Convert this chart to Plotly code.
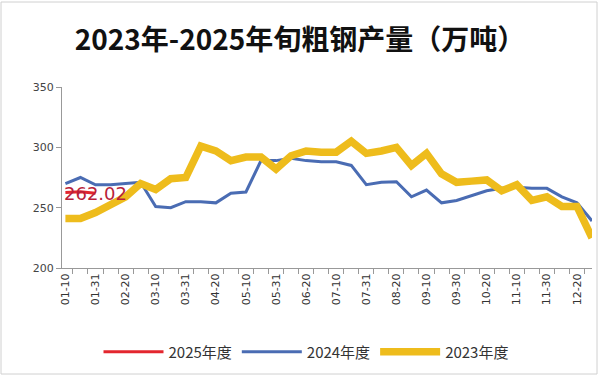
import plotly.graph_objects as go

categories = []
for m, days in [("01", 31), ("02", 28), ("03", 31), ("04", 30), ("05", 31), ("06", 30),
                ("07", 31), ("08", 31), ("09", 30), ("10", 31), ("11", 30), ("12", 31)]:
    for d in ("10", "20", str(days)):
        categories.append(f"{m}-{d}")

tick_labels = [c if i % 2 == 0 else "" for i, c in enumerate(categories)]

y2025 = [262.5, 263.1, 262.02]
y2024 = [270, 275, 269, 269, 270, 271, 251, 250, 255, 255, 254, 262,
         263, 289, 289, 291, 289, 288, 288, 285, 269, 271, 271.5, 259,
         264.6, 254, 256, 260, 264, 266, 267, 266, 266, 259, 254, 239]
y2023 = [241, 241, 246, 252, 259, 270, 265, 274, 275, 301, 297, 289,
         292, 292, 282, 293, 297, 296, 296, 305, 295, 297, 300, 285,
         295, 278, 271, 272, 273, 264, 269, 256, 259, 251, 251, 225]

label_text = "262.02"

W, H = 600, 376
L, R, T, B = 62, 8, 87, 108
pw, ph = W - L - R, H - T - B


def px_x(x):
    return (x - L) / pw


def px_y(y):
    return (H - B - y) / ph


fig = go.Figure()
fig.add_trace(go.Scatter(x=categories[:len(y2025)], y=y2025, mode="lines", name="2025年度",
                         line=dict(color="#e3262e", width=3)))
fig.add_trace(go.Scatter(x=categories, y=y2024, mode="lines", name="2024年度",
                         line=dict(color="#4a6cb3", width=3)))
fig.add_trace(go.Scatter(x=categories, y=y2023, mode="lines", name="2023年度",
                         line=dict(color="#eebc1c", width=7.5)))

fig.add_annotation(x=categories[len(y2025) - 1], y=y2025[-1], text=label_text,
                   showarrow=False, xanchor="center", yanchor="middle",
                   font=dict(family="DejaVu Sans", size=18, color="#b81e3a"))

fig.add_shape(type="rect", xref="paper", yref="paper",
              x0=px_x(1), x1=px_x(597), y0=px_y(374), y1=px_y(2),
              line=dict(color="#d0d0d0", width=1), fillcolor="rgba(0,0,0,0)", layer="below")

fig.update_layout(
    width=W, height=H,
    paper_bgcolor="white", plot_bgcolor="white",
    margin=dict(l=L, r=R, t=T, b=B),
    title=dict(text="<b>2023年-2025年旬粗钢产量（万吨）</b>", x=0.5, xanchor="center",
               y=1 - 40 / H, yanchor="middle",
               font=dict(family="Noto Sans CJK SC", size=28, color="#111")),
    showlegend=True,
    legend=dict(orientation="h", x=px_x(306), xanchor="center", y=px_y(352), yanchor="middle",
                font=dict(family="Noto Sans CJK SC", size=15, color="#333"),
                itemwidth=60, tracegroupgap=0, bgcolor="rgba(0,0,0,0)"),
    xaxis=dict(type="category", categoryorder="array", categoryarray=categories,
               tickmode="array", tickvals=categories, ticktext=tick_labels,
               tickson="boundaries", ticks="outside", ticklen=5, tickcolor="#999",
               tickangle=-90, showline=True, linecolor="#999", linewidth=1,
               showgrid=False, zeroline=False,
               tickfont=dict(family="DejaVu Sans", size=11, color="#333")),
    yaxis=dict(range=[200, 350], tickvals=[200, 250, 300, 350], ticks="outside",
               ticklen=5, tickcolor="#999", showline=True, linecolor="#999", linewidth=1,
               showgrid=False, zeroline=False,
               tickfont=dict(family="DejaVu Sans", size=11, color="#444")),
)

fig.write_html("out.html", config={"displayModeBar": False},
               post_script="document.body.style.margin='0px';")
